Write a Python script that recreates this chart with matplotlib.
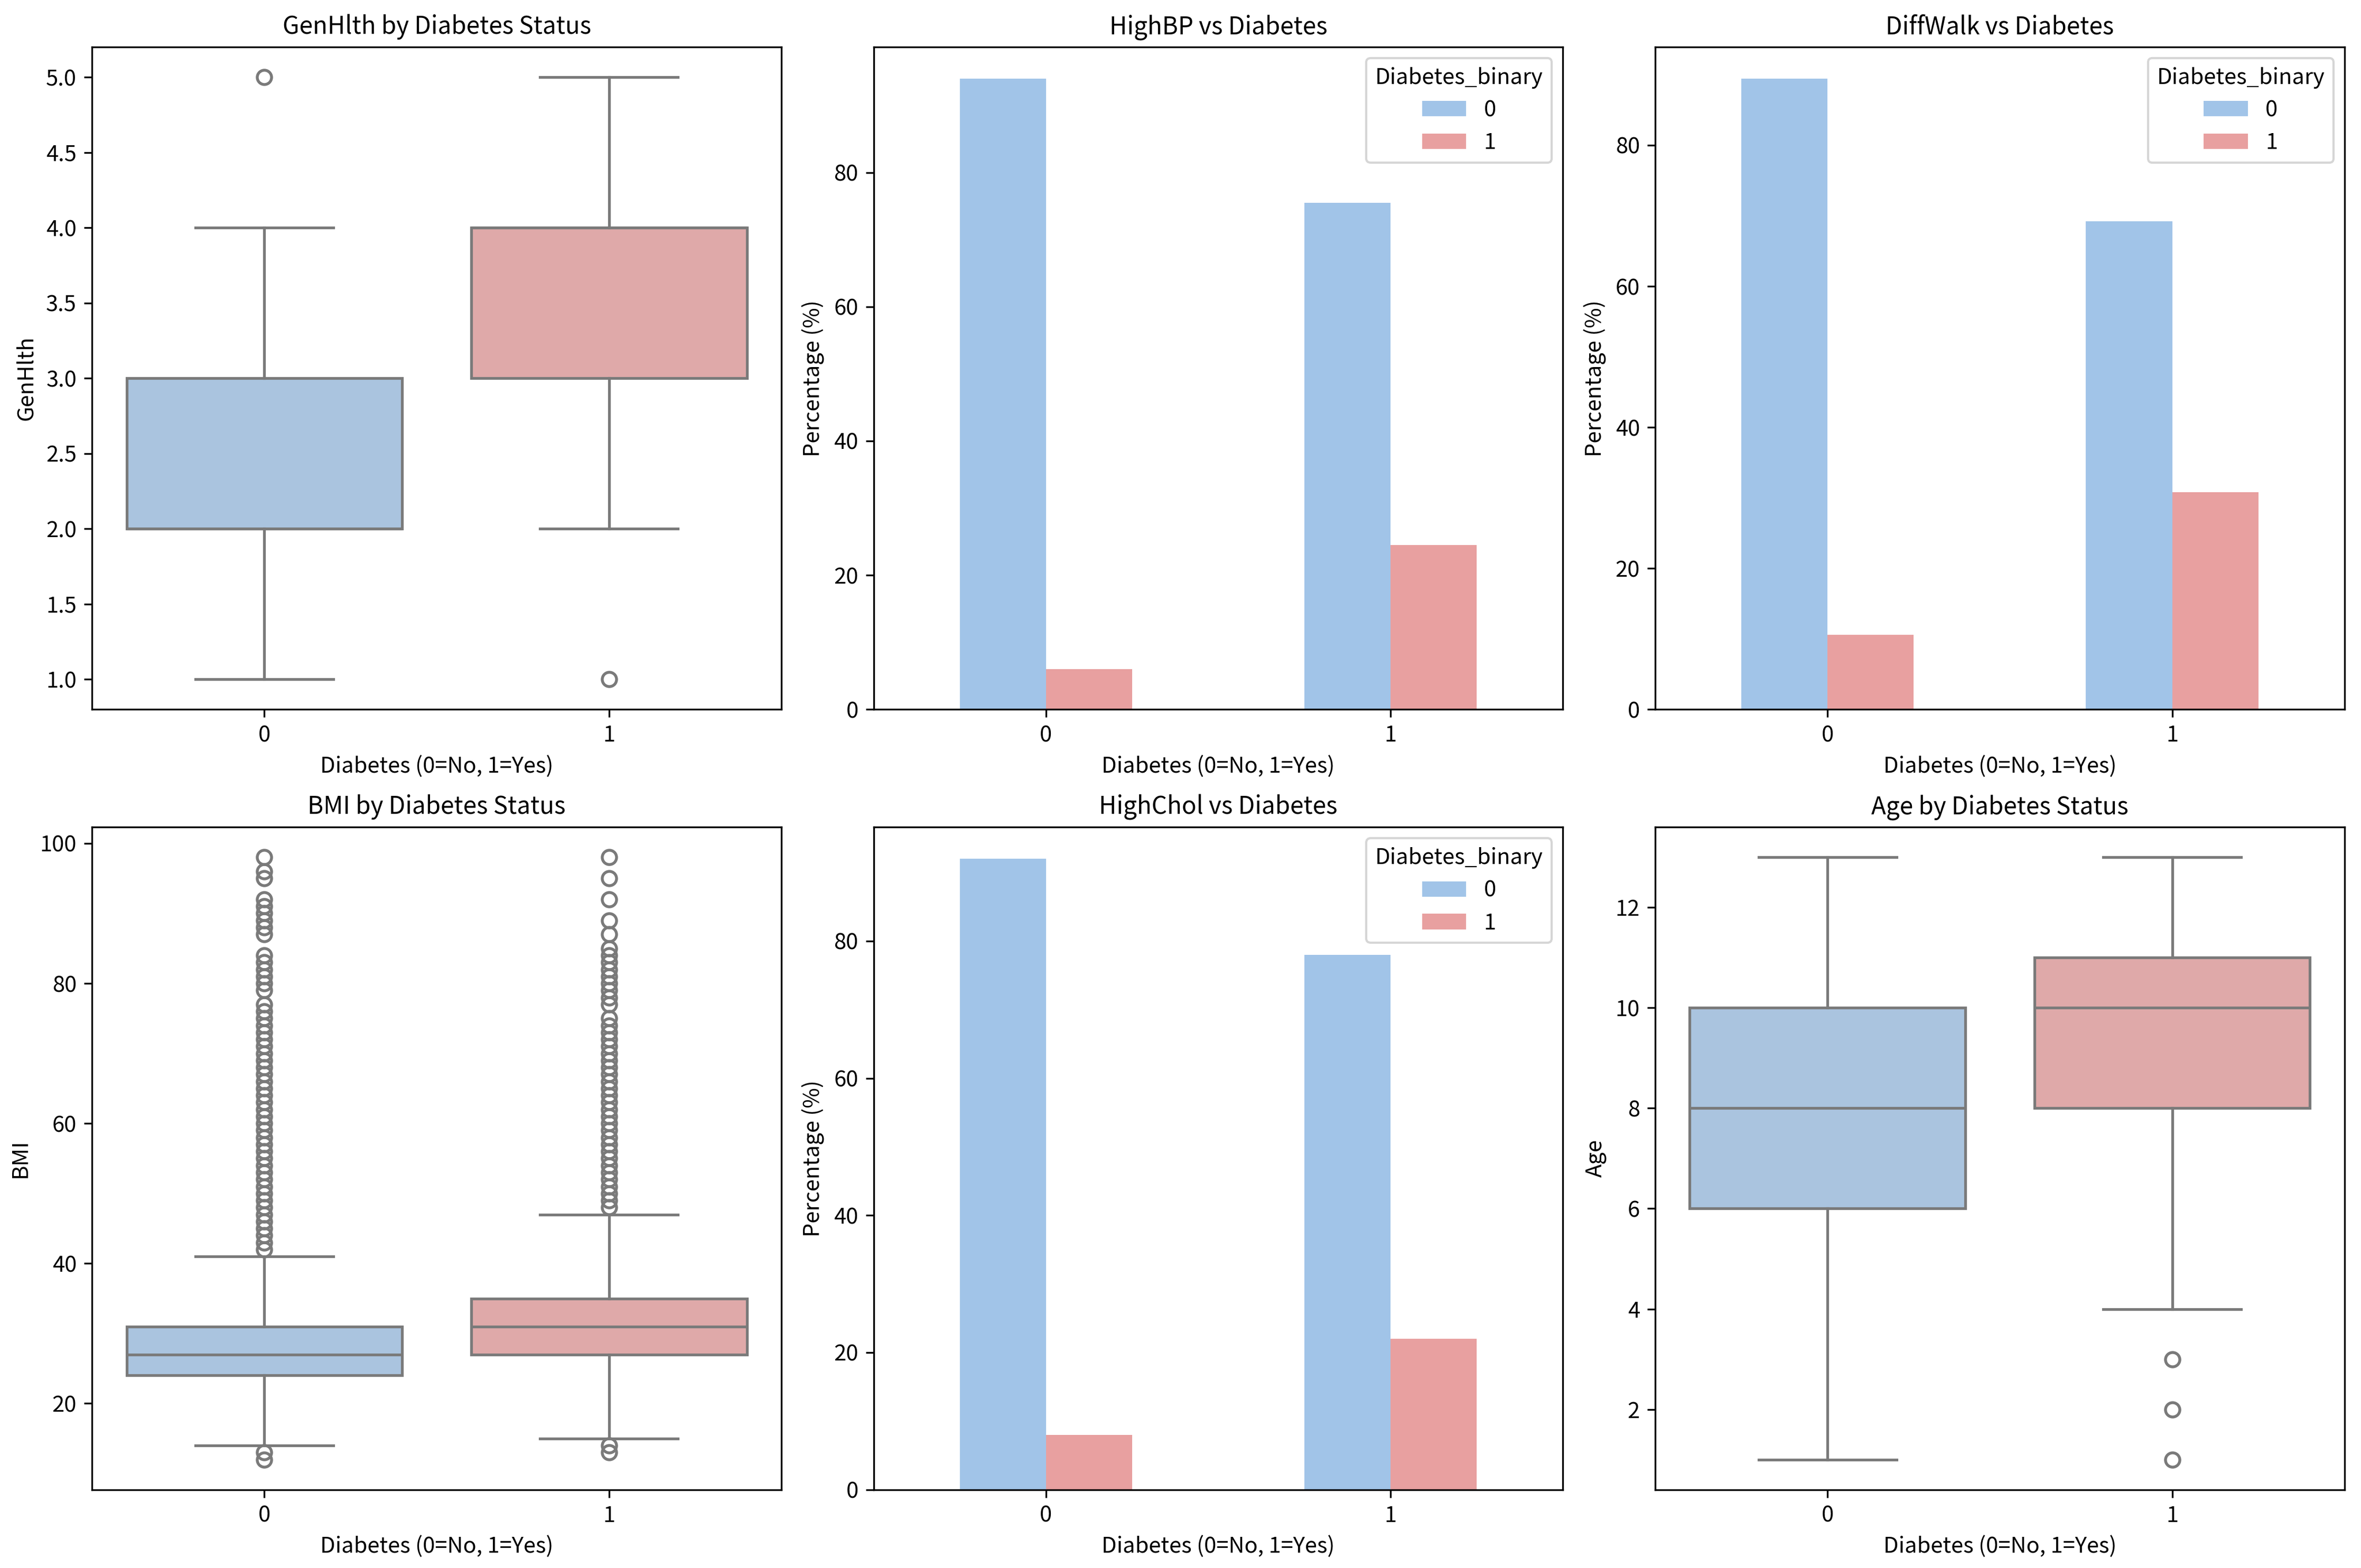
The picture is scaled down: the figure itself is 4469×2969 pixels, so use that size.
import matplotlib
matplotlib.use("Agg")
import matplotlib.pyplot as plt
import numpy as np

plt.rcParams['font.family'] = ['Noto Sans CJK SC', 'DejaVu Sans']
plt.rcParams['axes.unicode_minus'] = False
plt.rcParams['axes.titlesize'] = 11

# ---------------- data ----------------
groups = [0, 1]
group_labels = ["0", "1"]
hue_labels = ["0", "1"]

# GenHlth box stats per diabetes group
genhlth_q1 = [2, 3]
genhlth_med = [2, 4]
genhlth_q3 = [3, 4]
genhlth_whislo = [1, 2]
genhlth_whishi = [4, 5]
genhlth_fliers = [[5], [1]]

# BMI box stats
bmi_q1 = [24, 27]
bmi_med = [27, 31]
bmi_q3 = [31, 35]
bmi_whislo = [14, 15]
bmi_whishi = [41, 47]
bmi_fliers_0 = [12, 13,
                42, 43, 44, 45, 46, 47, 48, 49, 50, 51, 52, 53, 54, 55, 56, 57, 58, 59,
                60, 61, 62, 63, 64, 65, 66, 67, 68, 69, 70, 71, 72, 73, 74, 75, 76, 77,
                79, 80, 81, 82, 83, 84,
                87, 88, 89, 90, 91, 92,
                95, 96, 98]
bmi_fliers_1 = [13, 14,
                48, 49, 50, 51, 52, 53, 54, 55, 56, 57, 58, 59, 60, 61, 62, 63, 64, 65,
                66, 67, 68, 69, 70, 71, 72, 73, 74, 75,
                77, 78, 79, 80, 81, 82, 83, 84, 85,
                87, 89, 92, 95, 98]

# Age box stats
age_q1 = [6, 8]
age_med = [8, 10]
age_q3 = [10, 11]
age_whislo = [1, 4]
age_whishi = [13, 13]
age_fliers = [[], [3, 2, 1]]

# Percentages (row-normalised crosstab): feature value -> [Diabetes 0, Diabetes 1]
highbp_no_diab = [94.0, 75.5]
highbp_diab = [6.0, 24.5]
diffwalk_no_diab = [89.45, 69.2]
diffwalk_diab = [10.55, 30.8]
highchol_no_diab = [92.0, 78.0]
highchol_diab = [8.0, 22.0]

# ---------------- style ----------------
bar_colors = ['#a1c4e8', '#e8a0a0']
box_colors = ['#aac4df', '#dfa9a9']
line_gray = '#7a7a7a'
xlabel_text = 'Diabetes (0=No, 1=Yes)'

fig, axes = plt.subplots(2, 3, figsize=(4469 / 300, 2969 / 300), dpi=300)
fig.subplots_adjust(left=0.039, right=0.993, top=0.970, bottom=0.050,
                    wspace=0.134, hspace=0.178)


def draw_box(ax, q1, med, q3, wlo, whi, fliers, title, ylabel):
    stats = []
    for i in range(len(groups)):
        stats.append(dict(q1=q1[i], med=med[i], q3=q3[i], whislo=wlo[i],
                          whishi=whi[i], fliers=fliers[i], label=group_labels[i]))
    bp = ax.bxp(stats, positions=groups, widths=0.8, patch_artist=True,
                showfliers=True,
                boxprops=dict(edgecolor=line_gray, linewidth=1.25),
                medianprops=dict(color=line_gray, linewidth=1.25),
                whiskerprops=dict(color=line_gray, linewidth=1.25),
                capprops=dict(color=line_gray, linewidth=1.25),
                capwidths=0.4,
                flierprops=dict(marker='o', markerfacecolor='none',
                                markeredgecolor=line_gray, markersize=6.5,
                                markeredgewidth=1.3))
    for patch, c in zip(bp['boxes'], box_colors):
        patch.set_facecolor(c)
    ax.set_xlim(-0.5, 1.5)
    ax.set_xticks(groups)
    ax.set_xticklabels(group_labels)
    ax.set_title(title)
    ax.set_ylabel(ylabel)
    ax.set_xlabel(xlabel_text)


def draw_bar(ax, v0, v1, title):
    x = np.array(groups, dtype=float)
    w = 0.25
    ax.bar(x - w / 2, v0, width=w, color=bar_colors[0], label=hue_labels[0])
    ax.bar(x + w / 2, v1, width=w, color=bar_colors[1], label=hue_labels[1])
    ax.set_xlim(-0.5, 1.5)
    ax.set_xticks(groups)
    ax.set_xticklabels(group_labels, rotation=0)
    ax.set_title(title)
    ax.set_ylabel('Percentage (%)')
    ax.set_xlabel(xlabel_text)
    ax.legend(title='Diabetes_binary', loc='upper right')


draw_box(axes[0, 0], genhlth_q1, genhlth_med, genhlth_q3, genhlth_whislo,
         genhlth_whishi, genhlth_fliers, 'GenHlth by Diabetes Status', 'GenHlth')
draw_bar(axes[0, 1], highbp_no_diab, highbp_diab, 'HighBP vs Diabetes')
draw_bar(axes[0, 2], diffwalk_no_diab, diffwalk_diab, 'DiffWalk vs Diabetes')
draw_box(axes[1, 0], bmi_q1, bmi_med, bmi_q3, bmi_whislo, bmi_whishi,
         [bmi_fliers_0, bmi_fliers_1], 'BMI by Diabetes Status', 'BMI')
draw_bar(axes[1, 1], highchol_no_diab, highchol_diab, 'HighChol vs Diabetes')
draw_box(axes[1, 2], age_q1, age_med, age_q3, age_whislo, age_whishi,
         age_fliers, 'Age by Diabetes Status', 'Age')

fig.savefig('out.png', dpi=300)
